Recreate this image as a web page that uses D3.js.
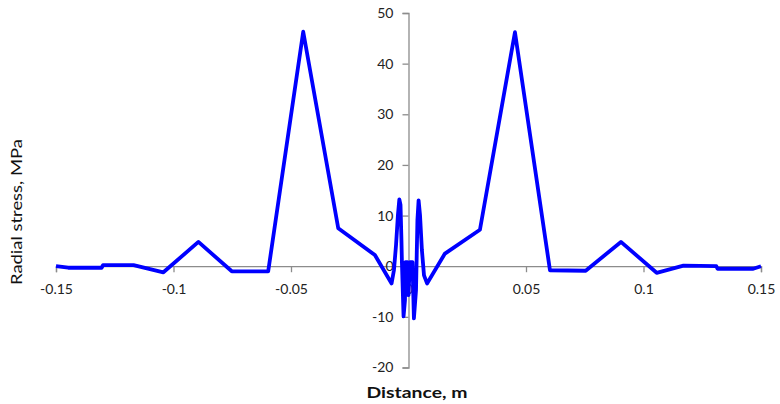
<!DOCTYPE html>
<html>
<head>
<meta charset="utf-8">
<script src="https://cdn.jsdelivr.net/npm/d3@7"></script>
<style>
  html, body { margin: 0; padding: 0; background: #fff; }
  svg { display: block; }
  .tick text { font-family: Lato, "Noto Sans", sans-serif; font-size: 14px; fill: #222; }
</style>
</head>
<body>
<svg id="chart" width="780" height="404"></svg>
<script>
// Distance (m) and radial stress (MPa)
const distance = [
  -0.15, -0.1448, -0.1306, -0.13, -0.117, -0.1043, -0.0894, -0.0752, -0.0597,
  -0.0448, -0.0299, -0.0143,
  -0.0072, -0.0062, -0.0053, -0.0045, -0.0039, -0.0034, -0.0030, -0.0028,
  -0.0021, -0.0015, -0.0013, -0.0004, 0.0, 0.0006, 0.0017,
  0.0023, 0.0032, 0.0038, 0.0043, 0.0049, 0.0057, 0.0066, 0.0079,
  0.0155, 0.0304, 0.0453, 0.0602, 0.0754, 0.0904, 0.1056, 0.117, 0.131, 0.1315,
  0.1467, 0.15
];
const stress = [
  0.0, -0.3, -0.3, 0.2, 0.2, -1.2, 4.8, -1.0, -1.0,
  46.3, 7.5, 2.2,
  -3.4, -0.8, 4.2, 10.1, 13.2, 12.1, 5.1, 0.8,
  -9.9, -6.7, 0.8, 0.8, -5.7, 0.8, 0.8,
  -10.3, -4.7, 9.1, 13.0, 10.1, 3.2, -1.8, -3.4,
  2.5, 7.2, 46.2, -0.8, -0.9, 4.8, -1.3, 0.1, 0.0, -0.5,
  -0.5, 0.0
];
const xTicks = [-0.15, -0.1, -0.05, 0, 0.05, 0.1, 0.15];
const xTickLabels = ["-0.15", "-0.1", "-0.05", "0", "0.05", "0.1", "0.15"];
const yTicks = [-20, -10, 0, 10, 20, 30, 40, 50];
const yTickLabels = ["-20", "-10", "0", "10", "20", "30", "40", "50"];
const xTitle = "Distance, m";
const yTitle = "Radial stress, MPa";

const svg = d3.select("#chart");
const x = d3.scaleLinear().domain([-0.15, 0.15]).range([56, 761]);
const y = d3.scaleLinear().domain([-20, 50]).range([367.5, 13]);

const axisColor = "#8c8c8c";

// X axis at y = 0
const xAxis = svg.append("g")
  .attr("transform", `translate(0,${y(0)})`)
  .call(d3.axisBottom(x).tickValues(xTicks)
    .tickFormat((d, i) => xTickLabels[i]).tickSize(6).tickPadding(12));
xAxis.select(".domain").attr("stroke", axisColor).attr("stroke-width", 1.3);
xAxis.selectAll(".tick line").attr("stroke", axisColor).attr("stroke-width", 1.3);

// Y axis at x = 0
const yAxis = svg.append("g")
  .attr("transform", `translate(${x(0)},0)`)
  .call(d3.axisLeft(y).tickValues(yTicks)
    .tickFormat((d, i) => yTickLabels[i]).tickSize(6).tickPadding(9));
yAxis.select(".domain").attr("stroke", axisColor).attr("stroke-width", 1.3);
yAxis.selectAll(".tick line").attr("stroke", axisColor).attr("stroke-width", 1.3);

// Line
const line = d3.line().x((d, i) => x(distance[i])).y(d => y(d));
svg.append("path")
  .datum(stress)
  .attr("fill", "none")
  .attr("stroke", "#0000ff")
  .attr("stroke-width", 3.8)
  .attr("stroke-linejoin", "round")
  .attr("d", line);

// Titles
svg.append("text")
  .attr("x", 417).attr("y", 398)
  .attr("text-anchor", "middle")
  .attr("textLength", 101)
  .attr("lengthAdjust", "spacingAndGlyphs")
  .style("font-family", "Lato, 'Noto Sans', sans-serif")
  .style("font-weight", "bold")
  .style("font-size", "16px")
  .style("fill", "#111")
  .text(xTitle);

svg.append("text")
  .attr("transform", "translate(22,212) rotate(-90)")
  .attr("text-anchor", "middle")
  .attr("textLength", 146)
  .attr("lengthAdjust", "spacingAndGlyphs")
  .style("font-family", "Lato, 'Noto Sans', sans-serif")
  .style("font-size", "16px")
  .style("fill", "#111")
  .text(yTitle);
</script>
</body>
</html>
